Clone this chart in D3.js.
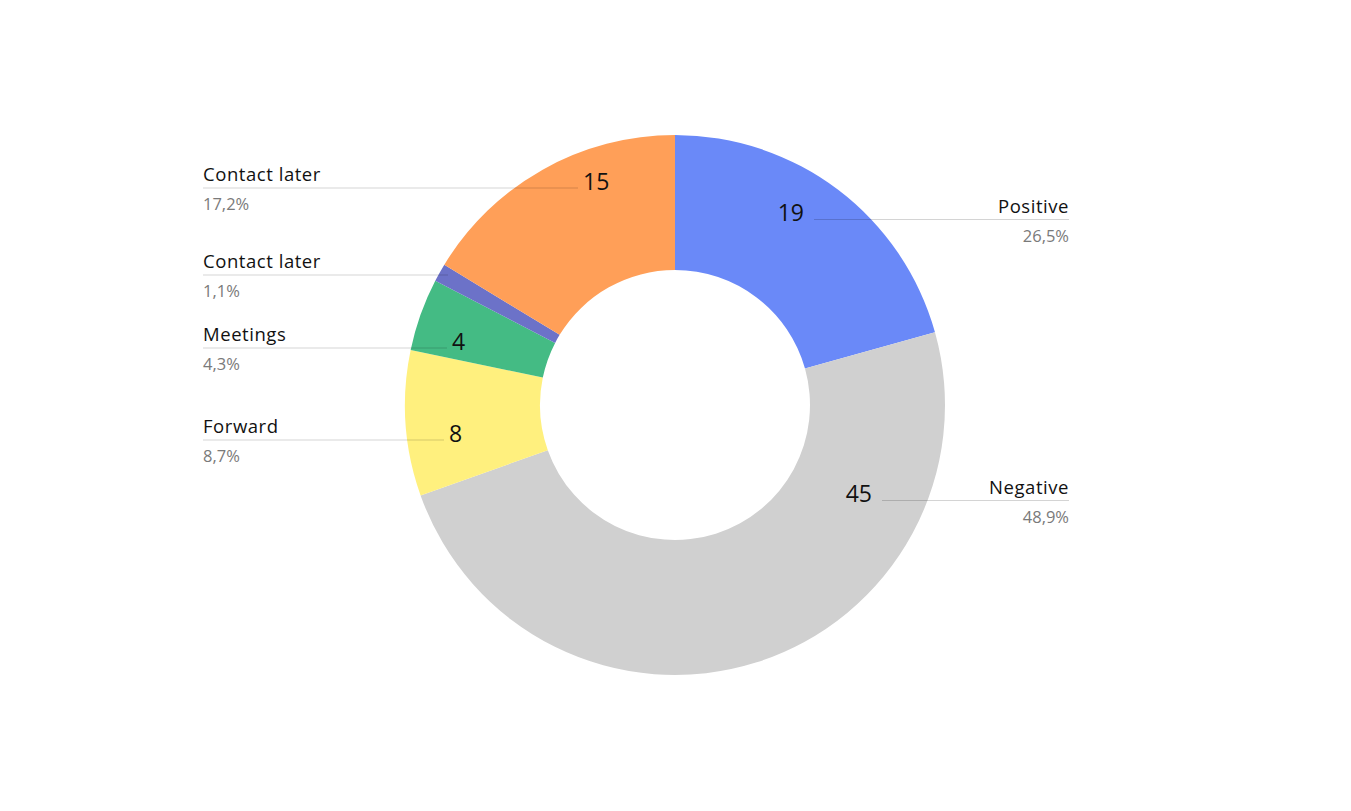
<!DOCTYPE html>
<html><head><meta charset="utf-8">
<script src="https://cdn.jsdelivr.net/npm/d3@7"></script>
<style>
html,body{margin:0;padding:0;background:#fff;}
svg{display:block;}
text{font-family:"Open Sans","Noto Sans",sans-serif;}
</style></head>
<body>
<svg id="chart" width="1351" height="811"></svg>
<script>
// ---- data ----
const categories = ["Positive","Negative","Forward","Meetings","Contact later","Contact later"];
const values = [19, 45, 8, 4, 1, 15];
const percentLabels = ["26,5%","48,9%","8,7%","4,3%","1,1%","17,2%"];
const valueLabels = ["19","45","8","4","","15"];
const colors = ["#6a89f8","#d0d0d0","#fff07e","#44bb84","#6c72c8","#ff9f58"];

// ---- layout (positions of callouts) ----
const side   = ["right","right","left","left","left","left"];
const lineY  = [219.5, 500.5, 440, 348, 275, 188];
const lineInner = [814, 882, 444, 447, 448, 578]; // end of leader toward the chart
const leftX = 203, rightX = 1069;

const svg = d3.select("#chart");
const cx = 675, cy = 405, R = 270, r = 135;

const pie = d3.pie().sort(null).value(d => d.v).startAngle(0).endAngle(2*Math.PI);
const arc = d3.arc().innerRadius(r).outerRadius(R);
const data = values.map((v,i)=>({v, i}));

const g = svg.append("g").attr("transform", `translate(${cx},${cy})`);
g.selectAll("path").data(pie(data)).join("path")
  .attr("d", arc)
  .attr("fill", d => colors[d.data.i]);

const labels = svg.append("g");
data.forEach((d,i) => {
  const right = side[i] === "right";
  const x1 = right ? lineInner[i] : leftX;
  const x2 = right ? rightX : lineInner[i];
  labels.append("line")
    .attr("x1", x1).attr("x2", x2)
    .attr("y1", lineY[i]).attr("y2", lineY[i])
    .attr("stroke", "#000").attr("stroke-opacity", 0.17).attr("stroke-width", 1.2);
  const tx = right ? rightX : leftX;
  const anchor = right ? "end" : "start";
  labels.append("text")
    .attr("x", tx).attr("y", lineY[i] - 7)
    .attr("text-anchor", anchor)
    .attr("font-size", 18.5).attr("letter-spacing", 0.55).attr("fill", "#111")
    .text(categories[i]);
  labels.append("text")
    .attr("x", tx).attr("y", lineY[i] + 22)
    .attr("text-anchor", anchor)
    .attr("font-size", 16.5).attr("fill", "#7a7a7a")
    .text(percentLabels[i]);
  if (valueLabels[i]) {
    labels.append("text")
      .attr("x", right ? lineInner[i] - 10 : lineInner[i] + 5)
      .attr("y", lineY[i] + 1.5)
      .attr("text-anchor", right ? "end" : "start")
      .attr("font-size", 23).attr("fill", "#111")
      .text(valueLabels[i]);
  }
});
</script>
</body></html>
